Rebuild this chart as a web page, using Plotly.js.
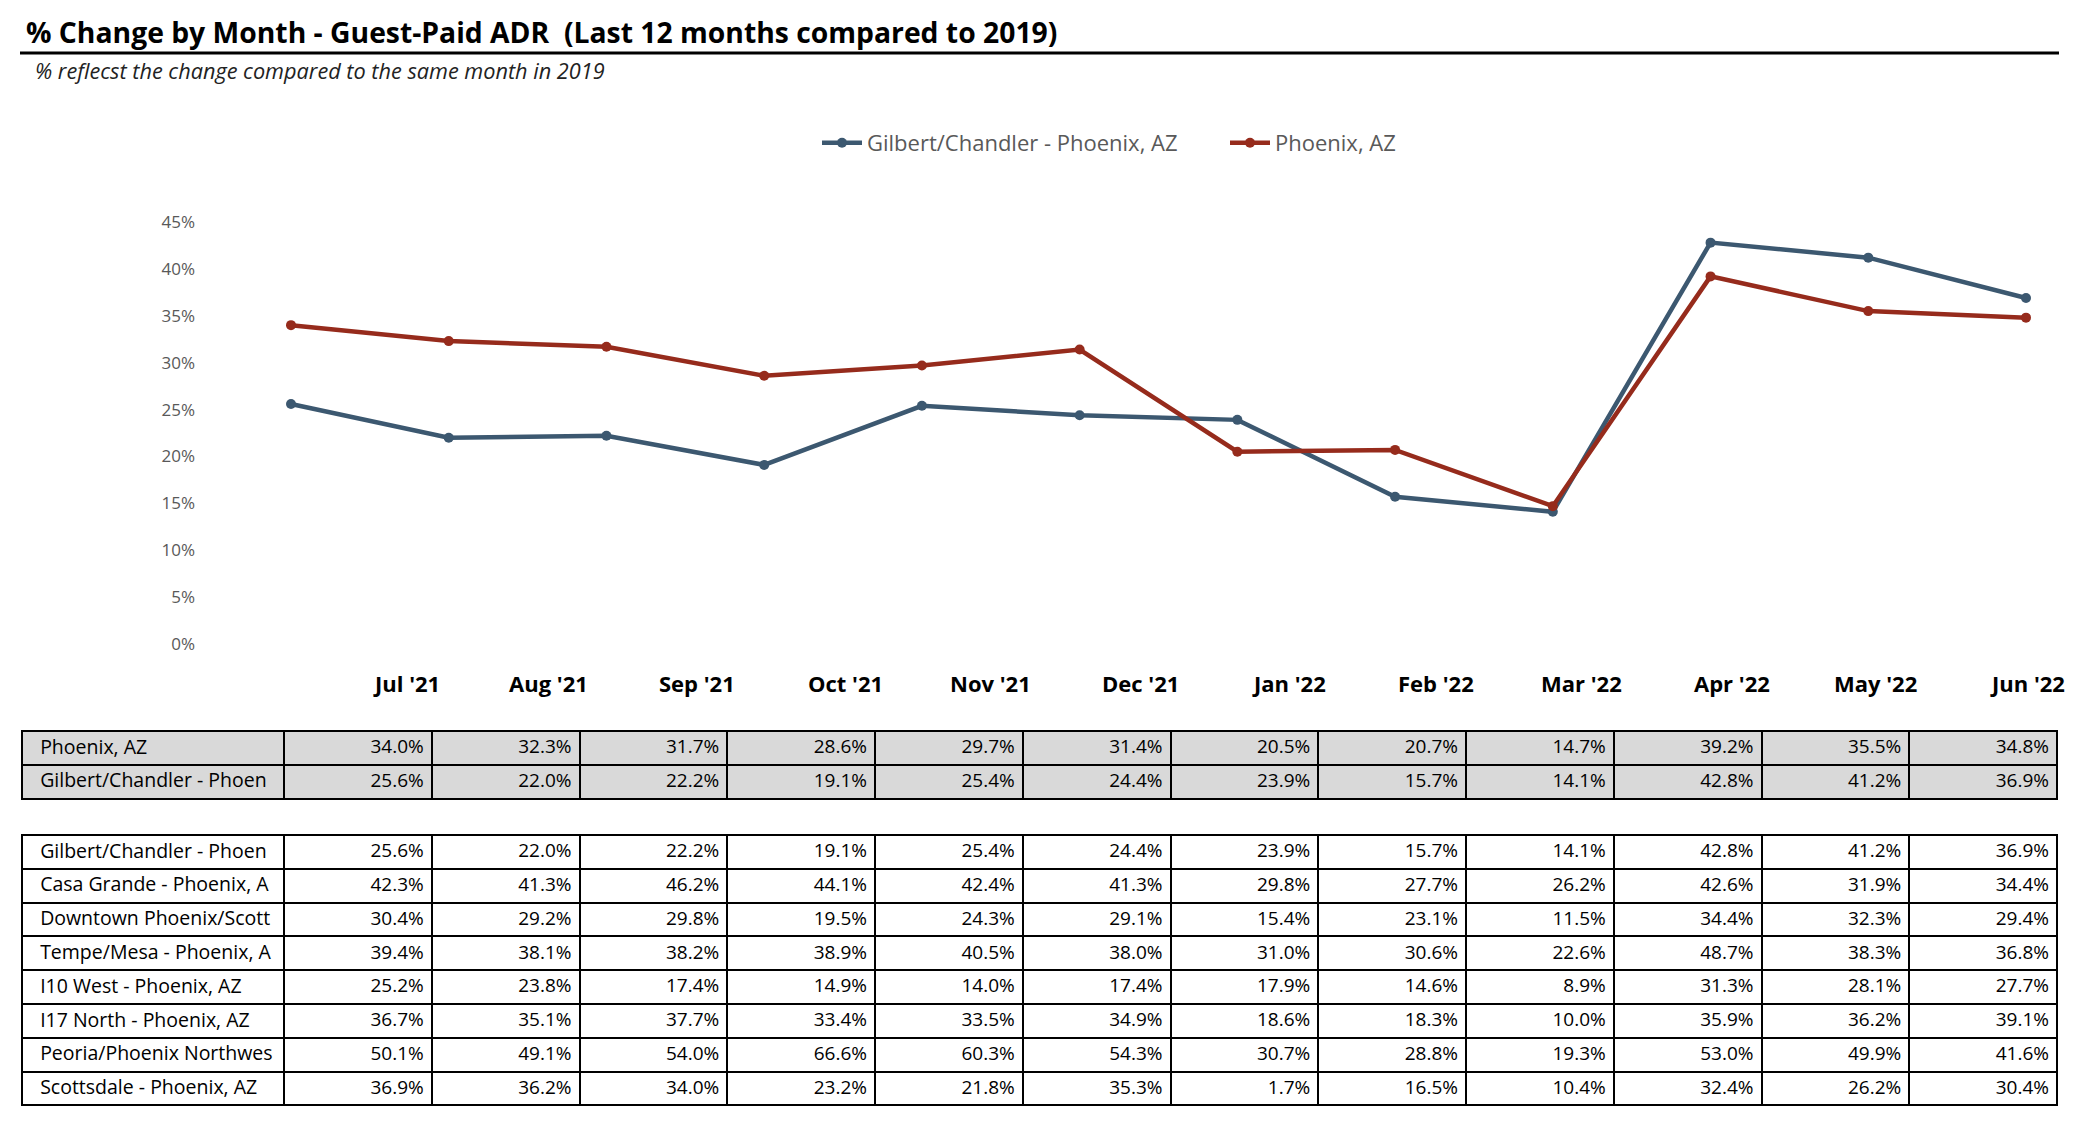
<!DOCTYPE html>
<html>
<head>
<meta charset="utf-8">
<script src="https://cdn.plot.ly/plotly-3.0.1.min.js"></script>
<style>html,body{margin:0;padding:0;background:#fff;}#chart{width:2074px;height:1128px;}</style>
</head>
<body>
<div id="chart"></div>
<script>
// ---- data ----
var months = ["Jul '21","Aug '21","Sep '21","Oct '21","Nov '21","Dec '21","Jan '22","Feb '22","Mar '22","Apr '22","May '22","Jun '22"];
var gilbertName = "Gilbert/Chandler - Phoenix, AZ";
var phoenixName = "Phoenix, AZ";
var gilbert = [25.6, 22.0, 22.2, 19.1, 25.4, 24.4, 23.9, 15.7, 14.1, 42.8, 41.2, 36.9];
var phoenix = [34.0, 32.3, 31.7, 28.6, 29.7, 31.4, 20.5, 20.7, 14.7, 39.2, 35.5, 34.8];

var topLabels = ["Phoenix, AZ", "Gilbert/Chandler - Phoen"];
var topRows = [phoenix, gilbert];

var subLabels = ["Gilbert/Chandler - Phoen","Casa Grande - Phoenix, A","Downtown Phoenix/Scott","Tempe/Mesa - Phoenix, A","I10 West - Phoenix, AZ","I17 North - Phoenix, AZ","Peoria/Phoenix Northwes","Scottsdale - Phoenix, AZ"];
var casaGrande = [42.3, 41.3, 46.2, 44.1, 42.4, 41.3, 29.8, 27.7, 26.2, 42.6, 31.9, 34.4];
var downtown   = [30.4, 29.2, 29.8, 19.5, 24.3, 29.1, 15.4, 23.1, 11.5, 34.4, 32.3, 29.4];
var tempeMesa  = [39.4, 38.1, 38.2, 38.9, 40.5, 38.0, 31.0, 30.6, 22.6, 48.7, 38.3, 36.8];
var i10West    = [25.2, 23.8, 17.4, 14.9, 14.0, 17.4, 17.9, 14.6, 8.9, 31.3, 28.1, 27.7];
var i17North   = [36.7, 35.1, 37.7, 33.4, 33.5, 34.9, 18.6, 18.3, 10.0, 35.9, 36.2, 39.1];
var peoria     = [50.1, 49.1, 54.0, 66.6, 60.3, 54.3, 30.7, 28.8, 19.3, 53.0, 49.9, 41.6];
var scottsdale = [36.9, 36.2, 34.0, 23.2, 21.8, 35.3, 1.7, 16.5, 10.4, 32.4, 26.2, 30.4];
var subRows = [gilbert, casaGrande, downtown, tempeMesa, i10West, i17North, peoria, scottsdale];

var yTicks = [0, 5, 10, 15, 20, 25, 30, 35, 40, 45];

// ---- layout helpers ----
var W = 2074, H = 1128;
var FONT = "Open Sans, sans-serif";
var BLUE = "#3C5870", RED = "#962B1C";
function px(x){ return x / W; }
function py(y){ return 1 - y / H; }

var tableLeft = 22, tableRight = 2057, firstCol = 262;
var colW = (tableRight - tableLeft - firstCol) / months.length;
var rowH = 33.8;
var PAD = "\u00a0\u00a0";

function fmt(v){ return v.toFixed(1) + "%"; }
// non-breaking spaces keep each row label on a single line
function noWrap(s){ return s.replace(/ /g, "\u00a0"); }
function rowToCells(label, vals){ return [PAD + noWrap(label)].concat(vals.map(fmt)); }

function makeTable(labels, rows, yTop, fill){
  var hdr = rowToCells(labels[0], rows[0]);
  var cols = [];
  for (var c = 0; c <= months.length; c++) {
    var col = [];
    for (var r = 1; r < rows.length; r++) col.push(rowToCells(labels[r], rows[r])[c]);
    cols.push(col);
  }
  var align = ["left"].concat(months.map(function(){return "right";}));
  var sizes = [19.5].concat(months.map(function(){return 19;}));
  var n = rows.length;
  var style = {
    fill: {color: fill},
    line: {color: "#000", width: 2},
    align: align,
    font: {family: FONT, size: sizes, color: "#000"},
    height: rowH
  };
  return {
    type: "table",
    domain: {x: [px(tableLeft), px(tableRight)], y: [py(yTop + n * rowH + 6), py(yTop)]},
    columnwidth: [firstCol].concat(months.map(function(){return colW;})),
    header: Object.assign({values: hdr.map(function(v){return [v];})}, style),
    cells: Object.assign({values: cols}, style)
  };
}

var traces = [
  {type: "scatter", mode: "lines+markers", name: gilbertName, x: months, y: gilbert,
   line: {color: BLUE, width: 4.5}, marker: {color: BLUE, size: 10}},
  {type: "scatter", mode: "lines+markers", name: phoenixName, x: months, y: phoenix,
   line: {color: RED, width: 4.5}, marker: {color: RED, size: 10}},
  makeTable(topLabels, topRows, 731, "#D9D9D9"),
  makeTable(subLabels, subRows, 835, "#FFFFFF")
];

var annotations = [
  {xref: "paper", yref: "paper", x: px(33), y: py(70), xanchor: "left", yanchor: "middle", showarrow: false,
   text: "<i>% reflecst the change compared to the same month in 2019</i>",
   font: {family: FONT, size: 21.7, color: "#222"}}
];
months.forEach(function(m, i){
  annotations.push({xref: "paper", yref: "paper", x: px(tableLeft + firstCol + (i + 1) * colW + 10), y: py(683),
    xanchor: "right", yanchor: "middle", showarrow: false, text: "<b>" + m + "</b>",
    font: {family: FONT, size: 22, color: "#000"}});
});

var ptJul = 291, ptJun = 2026, plotL = 196, plotR = 2040;
var unit = (ptJun - ptJul) / (months.length - 1);

var layout = {
  width: W, height: H,
  margin: {l: 0, r: 0, t: 0, b: 0},
  paper_bgcolor: "#fff", plot_bgcolor: "#fff",
  font: {family: FONT},
  title: {text: "<b>% Change by Month - Guest-Paid ADR  (Last 12 months compared to 2019)</b>",
          x: px(26), xanchor: "left", xref: "paper", y: py(33), yanchor: "middle", yref: "paper",
          font: {family: FONT, size: 28.3, color: "#000"}},
  showlegend: true,
  legend: {orientation: "h", x: px(817), xanchor: "left", y: py(143), yanchor: "middle",
           itemwidth: 40, entrywidth: 353,
           font: {family: FONT, size: 22, color: "#595959"}, bgcolor: "rgba(0,0,0,0)"},
  xaxis: {domain: [px(plotL), px(plotR)], range: [-(ptJul - plotL) / unit, months.length - 1 + (plotR - ptJun) / unit],
          showticklabels: false, showgrid: false, zeroline: false, showline: false, ticks: ""},
  yaxis: {domain: [py(644), py(222)], range: [0, 45], tickmode: "array", tickvals: yTicks,
          ticktext: yTicks.map(function(v){ return v + "%"; }),
          showgrid: false, zeroline: false, showline: false, ticks: "",
          tickfont: {family: FONT, size: 17, color: "#595959"}},
  shapes: [
    {type: "line", xref: "paper", yref: "paper", x0: px(20), x1: px(2059), y0: py(53), y1: py(53),
     line: {color: "#000", width: 3}}
  ],
  annotations: annotations
};

Plotly.newPlot("chart", traces, layout, {displayModeBar: false, staticPlot: true});
</script>
</body>
</html>
